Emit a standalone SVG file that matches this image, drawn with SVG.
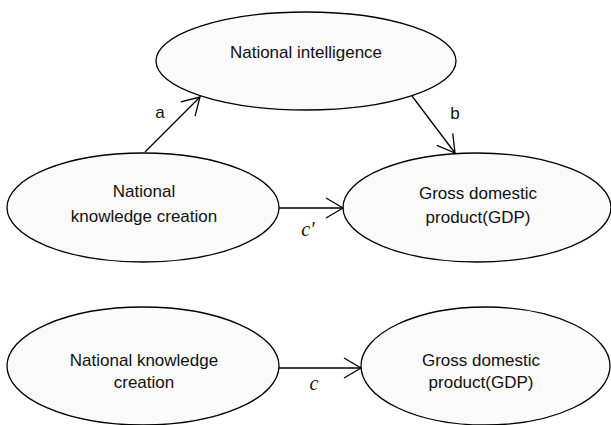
<svg xmlns="http://www.w3.org/2000/svg" width="611" height="425" viewBox="0 0 611 425">
  <style>
    .node { fill: #fafafa; stroke: #000; stroke-width: 1.3; }
    .lbl { font-family: "Liberation Sans", Arial, sans-serif; font-size: 17px; fill: #111; text-anchor: middle; }
    .edge { stroke: #000; stroke-width: 1.3; fill: none; marker-end: url(#arr); }
    .elbl { font-family: "Liberation Sans", Arial, sans-serif; font-size: 17px; fill: #111; text-anchor: middle; }
    .ital { font-family: "Liberation Serif", "Times New Roman", serif; font-style: italic; font-size: 20px; fill: #111; text-anchor: middle; }
  </style>
  <defs>
    <marker id="arr" markerUnits="userSpaceOnUse" viewBox="-20 -12 22 24" markerWidth="22" markerHeight="24" refX="0" refY="0" orient="auto">
      <path d="M-17,-10 L0,0 L-17,10" fill="none" stroke="#000" stroke-width="1.3"/>
    </marker>
  </defs>
  <rect width="611" height="425" fill="#fff"/>

  <g id="node-intelligence">
    <ellipse class="node" cx="306" cy="61" rx="150" ry="49"/>
    <text class="lbl" x="306" y="58">National intelligence</text>
  </g>
  <g id="node-knowledge-1">
    <ellipse class="node" cx="143" cy="207.5" rx="136" ry="54.5"/>
    <text class="lbl" x="144" y="197">National</text>
    <text class="lbl" x="144" y="222">knowledge creation</text>
  </g>
  <g id="node-gdp-1">
    <ellipse class="node" cx="477" cy="207.5" rx="134" ry="54.5"/>
    <text class="lbl" x="478" y="199">Gross domestic</text>
    <text class="lbl" x="478" y="223">product(GDP)</text>
  </g>
  <g id="node-knowledge-2">
    <ellipse class="node" cx="143" cy="366" rx="136" ry="59"/>
    <text class="lbl" x="144" y="366">National knowledge</text>
    <text class="lbl" x="144" y="388">creation</text>
  </g>
  <g id="node-gdp-2">
    <ellipse class="node" cx="485.5" cy="366" rx="124.5" ry="59"/>
    <text class="lbl" x="481" y="366">Gross domestic</text>
    <text class="lbl" x="481" y="388">product(GDP)</text>
  </g>

  <g id="connectors">
    <line class="edge" x1="145" y1="152" x2="200" y2="97"/>
    <line class="edge" x1="412" y1="96" x2="455" y2="153"/>
    <line class="edge" x1="279" y1="208" x2="343" y2="208"/>
    <line class="edge" x1="279" y1="368" x2="361" y2="368"/>
    <text class="elbl" x="160" y="118">a</text>
    <text class="elbl" x="455" y="119">b</text>
    <text class="ital" x="308" y="236">c′</text>
    <text class="ital" x="314" y="390">c</text>
  </g>
</svg>
